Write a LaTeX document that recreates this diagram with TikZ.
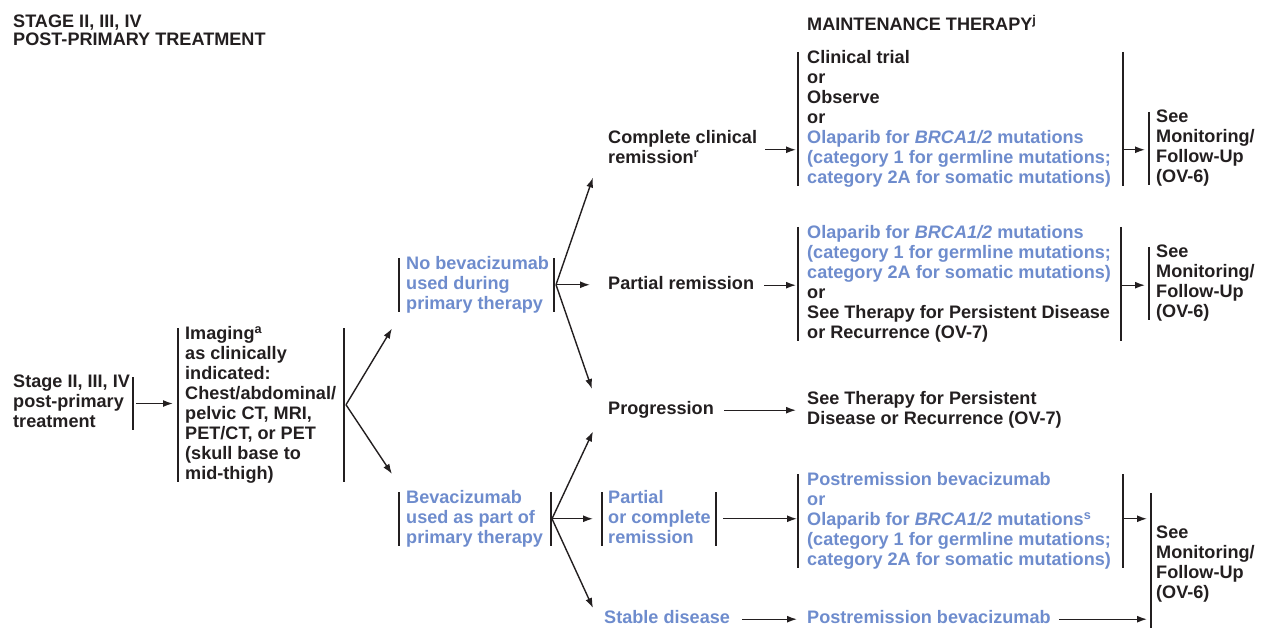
\documentclass[tikz,border=0pt]{standalone}
\usepackage{fontspec}
\setmainfont{Liberation Sans}
\usetikzlibrary{arrows.meta,calc}
\definecolor{ink}{RGB}{35,31,32}
\definecolor{nblue}{RGB}{110,140,205}
\newcommand\vbar[3]{%
  \coordinate (#3t) at ([shift={(#2,2)}]#1.north west);
  \coordinate (#3b) at ([shift={(#2,-4)}]#1.south west);
  \coordinate (#3) at ($(#3t)!0.5!(#3b)$);
  \draw[bar] (#3t) -- (#3b);}
\begin{document}
\begin{tikzpicture}[x=1pt,y=-1pt,
  txt/.style={anchor=north west, inner sep=0pt, align=left,
    font=\fontsize{18.1}{20}\selectfont\bfseries, text=ink,
    execute at begin node=\strut, execute at end node=\strut},
  btxt/.style={txt, text=nblue},
  bar/.style={draw=ink, line width=1.5pt},
  arr/.style={draw=ink, line width=1.4pt, -{Latex[length=10pt,width=7pt]}}]
\useasboundingbox (0,0) rectangle (1265,628);

% headers
\node[txt] (hdrA) at (13,15) {STAGE II, III, IV\\[-2pt]POST-PRIMARY TREATMENT};
\node[txt] (hdrB) at (807,15) {MAINTENANCE THERAPY\textsuperscript{j}};

% nodes
\node[txt] (stage) at (13,375) {Stage II, III, IV\\post-primary\\treatment};
\node[txt] (img) at (185,326) {Imaging\textsuperscript{a}\\as clinically\\indicated:\\Chest/abdominal/\\pelvic CT, MRI,\\PET/CT, or PET\\(skull base to\\mid-thigh)};
\node[btxt] (nobev) at (406,256) {No bevacizumab\\used during\\primary therapy};
\node[btxt] (bev) at (406,490) {Bevacizumab\\used as part of\\primary therapy};
\node[txt] (ccr) at (608,130) {Complete clinical\\remission\textsuperscript{r}};
\node[txt] (pr) at (608,275) {Partial remission};
\node[txt] (prog) at (608,400) {Progression};
\node[btxt] (poc) at (608,490) {Partial\\or complete\\remission};
\node[btxt] (sd) at (604,609) {Stable disease};
\node[txt] (box1) at (807,50) {Clinical trial\\or\\Observe\\or\\\textcolor{nblue}{Olaparib for \textit{BRCA1/2} mutations}\\\textcolor{nblue}{(category 1 for germline mutations;}\\\textcolor{nblue}{category 2A for somatic mutations)}};
\node[txt] (box2) at (807,225) {\textcolor{nblue}{Olaparib for \textit{BRCA1/2} mutations}\\\textcolor{nblue}{(category 1 for germline mutations;}\\\textcolor{nblue}{category 2A for somatic mutations)}\\or\\See Therapy for Persistent Disease\\or Recurrence (OV-7)};
\node[txt] (progt) at (807,391) {See Therapy for Persistent\\Disease or Recurrence (OV-7)};
\node[btxt] (box3) at (807,472) {Postremission bevacizumab\\or\\Olaparib for \textit{BRCA1/2} mutations\textsuperscript{s}\\(category 1 for germline mutations;\\category 2A for somatic mutations)};
\node[btxt] (pbev) at (807,609) {Postremission bevacizumab};
\node[txt] (see1) at (1156,110) {See\\Monitoring/\\Follow-Up\\(OV-6)};
\node[txt] (see2) at (1156,245) {See\\Monitoring/\\Follow-Up\\(OV-6)};
\node[txt] (see3) at (1156,526) {See\\Monitoring/\\Follow-Up\\(OV-6)};

% bars
\vbar{stage}{120}{stR}
\vbar{img}{-7}{imL}
\vbar{img}{159}{imR}
\vbar{nobev}{-7}{nbL}
\vbar{nobev}{148}{nbR}
\vbar{bev}{-7}{bvL}
\vbar{bev}{145}{bvR}
\vbar{poc}{-6}{pcL}
\vbar{poc}{108}{pcR}
\vbar{box1}{-9}{bxaL}
\vbar{box1}{316}{bxaR}
\vbar{box2}{-9}{bxbL}
\vbar{box2}{314}{bxbR}
\vbar{box3}{-9}{bxcL}
\vbar{box3}{316}{bxcR}
\vbar{see1}{-7}{saL}
\vbar{see2}{-7}{sbL}
\coordinate (scLt) at ([shift={(-5,-33)}]see3.north west);
\coordinate (scLb) at ([shift={(-5,23)}]see3.south west);
\draw[bar] (scLt) -- (scLb);

% connectors
\draw[arr] ([xshift=3pt]stR) -- ([xshift=-5pt]stR -| imL);
\draw[arr] ([xshift=2pt]imR) -- ([shift={(-7,17)}]nbLb);
\draw[arr] ([xshift=2pt]imR) -- ([shift={(-7,-18)}]bvLt);
\draw[arr] ([xshift=2pt]nbR) -- ([shift={(-15,8)}]ccr.south west);
\draw[arr] ([xshift=2pt]nbR) -- ([xshift=-18pt]nbR -| pr.west);
\draw[arr] ([xshift=2pt]nbR) -- ([shift={(-16,-11)}]prog.north west);
\draw[arr] ([xshift=1pt]bvR) -- ([shift={(-15,11)}]prog.south west);
\draw[arr] ([xshift=1pt]bvR) -- ([xshift=-9pt]bvR -| pcL);
\draw[arr] ([xshift=1pt]bvR) -- ([shift={(-11,-1)}]sd.north west);
\draw[arr] ([xshift=8pt]ccr.east) -- ([xshift=-2pt]ccr.east -| bxaL);
\draw[arr] ([xshift=10pt]pr.east) -- ([xshift=-2pt]pr.east -| bxbL);
\draw[arr] ([xshift=10pt]prog.east) -- ([xshift=-11pt]prog.east -| progt.west);
\draw[arr] ([xshift=7pt]pcR) -- ([xshift=-1pt]pcR -| bxcL);
\draw[arr] ([xshift=12pt]sd.east) -- ([xshift=-10pt]sd.east -| pbev.west);
\draw[arr] (ccr.east -| bxaR) -- ([xshift=-4pt]ccr.east -| saL);
\draw[arr] (pr.east -| bxbR) -- ([xshift=-4pt]pr.east -| sbL);
\draw[arr] (pcR -| bxcR) -- ([xshift=-4pt]pcR -| scLt);
\draw[arr] ([xshift=8pt]pbev.east) -- ([xshift=-4pt]sd.east -| scLt);
\end{tikzpicture}
\end{document}
